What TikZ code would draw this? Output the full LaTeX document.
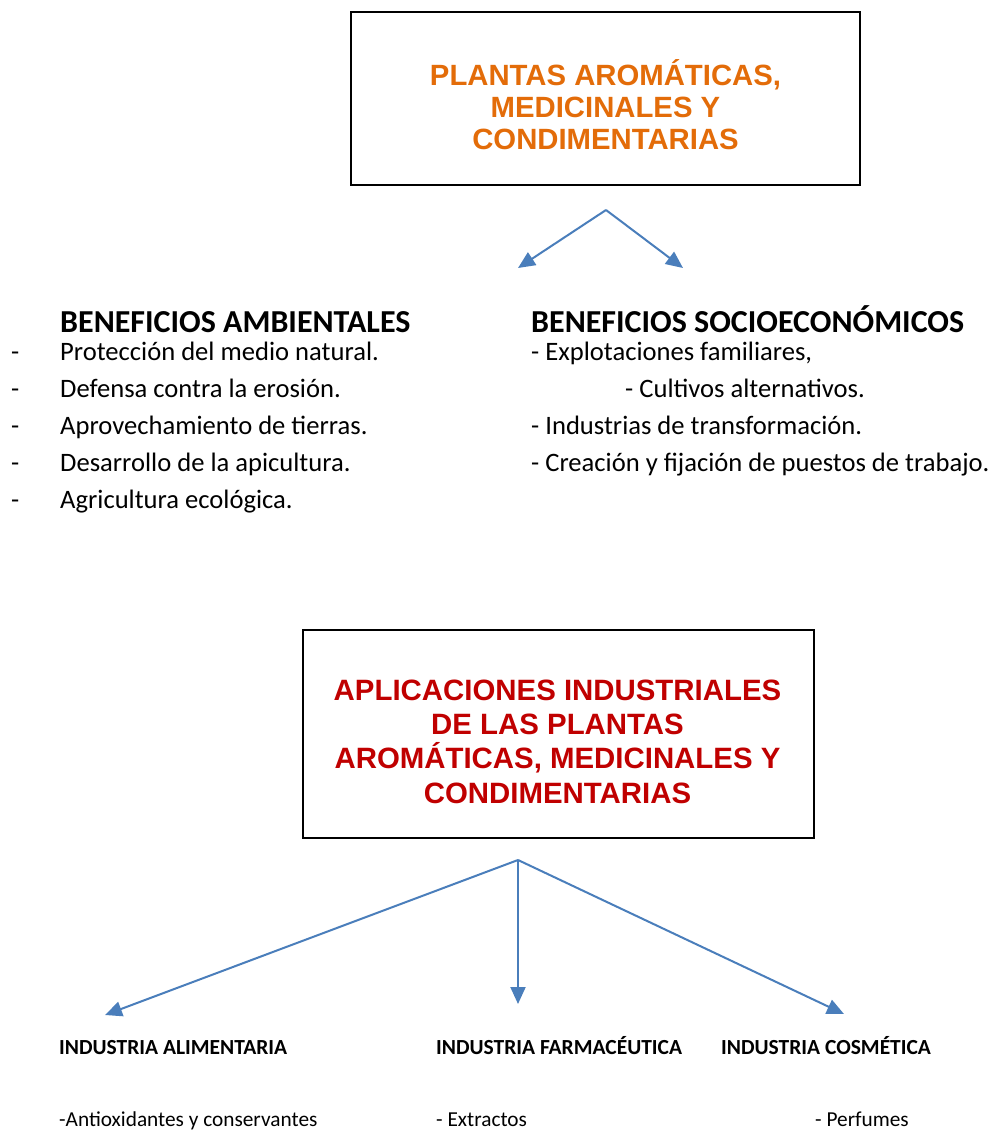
\documentclass[tikz,border=0pt]{standalone}
\usepackage{fontspec}
\setmainfont{Carlito}
\newfontfamily\arialf{Liberation Sans}
\usetikzlibrary{arrows.meta}
\definecolor{ttlorange}{HTML}{E36C09}
\definecolor{ttlred}{HTML}{C00000}
\definecolor{arrblue}{HTML}{4A7EBB}
\tikzset{
  frame/.style={draw=black, line width=1.6pt, inner sep=0pt},
  ttl/.style={font=\arialf\bfseries\fontsize{29.3}{32}\selectfont, align=center, inner sep=0pt},
  heading/.style={font=\bfseries\fontsize{32}{36}\selectfont, inner sep=0pt, anchor=base west},
  item/.style={font=\fontsize{26.6}{30}\selectfont, inner sep=0pt, anchor=base west},
  indlabel/.style={font=\bfseries\fontsize{21.5}{25}\selectfont, inner sep=0pt, anchor=base west},
  subitem/.style={font=\fontsize{21.3}{25}\selectfont, inner sep=0pt, anchor=base west},
  conn/.style={draw=arrblue, line width=2pt, -{Triangle[length=17pt,width=15pt]}}
}
\begin{document}
\begin{tikzpicture}[x=1pt,y=-1pt]
\useasboundingbox (0,0) rectangle (992,1135);
% top box
\node[frame, minimum width=509pt, minimum height=173pt] (topbox) at (605.5,98.5) {};
\node[ttl, text=ttlorange] (toptitle) at (605.5,105) {PLANTAS AROMÁTICAS,\\MEDICINALES Y\\CONDIMENTARIAS};
\coordinate (apex1) at (606,210);
\coordinate (tipL) at (518,268);
\coordinate (tipR) at (683,268);
\draw[conn] (apex1) -- (tipL);
\draw[conn] (apex1) -- (tipR);
% headings
\node[heading] (hamb) at (60,332) {BENEFICIOS AMBIENTALES};
\node[heading] (hsoc) at (531,332) {BENEFICIOS SOCIOECONÓMICOS};
% left items
\foreach \i/\yy/\t in {1/360/Protección del medio natural., 2/397/Defensa contra la erosión., 3/434/Aprovechamiento de tierras., 4/471/Desarrollo de la apicultura., 5/508/Agricultura ecológica.}{
  \node[item] (ld\i) at (11,\yy) {-};
  \node[item] (lt\i) at (60,\yy) {\t};
}
% right items
\node[item] (r1) at (531,360) {- Explotaciones familiares,};
\node[item] (r2) at (625,397) {- Cultivos alternativos.};
\node[item] (r3) at (531,434) {- Industrias de transformación.};
\node[item] (r4) at (531,471) {- Creación y fijación de puestos de trabajo.};
% second box
\node[frame, minimum width=511pt, minimum height=208pt] (botbox) at (558.5,734) {};
\node[ttl, text=ttlred, font=\arialf\bfseries\fontsize{29.4}{34.3}\selectfont] (bottitle) at (557.5,741.5) {APLICACIONES INDUSTRIALES\\DE LAS PLANTAS\\AROMÁTICAS, MEDICINALES Y\\CONDIMENTARIAS};
\coordinate (apex2) at (518,860);
\coordinate (tipA) at (105,1015);
\coordinate (tipF) at (518,1004);
\coordinate (tipC) at (844,1014);
\draw[conn] (apex2) -- (tipA);
\draw[conn] (apex2) -- (tipF);
\draw[conn] (apex2) -- (tipC);
% industry labels
\node[indlabel] (ia) at (59,1054) {INDUSTRIA ALIMENTARIA};
\node[indlabel] (if) at (436,1054) {INDUSTRIA FARMACÉUTICA};
\node[indlabel] (ic) at (721,1054) {INDUSTRIA COSMÉTICA};
\node[subitem] (ea) at (59,1126) {-Antioxidantes y conservantes};
\node[subitem] (ef) at (436,1126) {- Extractos};
\node[subitem] (ec) at (815,1126) {- Perfumes};
\end{tikzpicture}
\end{document}
